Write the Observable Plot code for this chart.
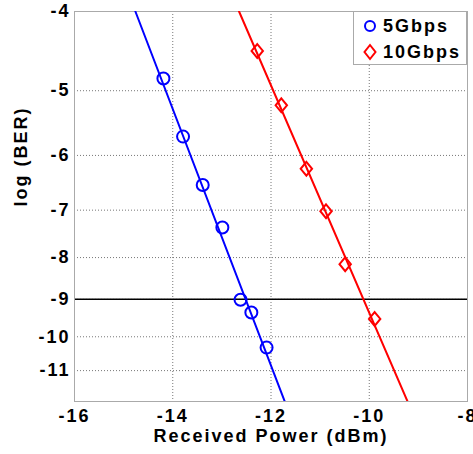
<!DOCTYPE html>
<html>
<head>
<meta charset="utf-8">
<script src="https://cdn.jsdelivr.net/npm/d3@7"></script>
<script src="https://cdn.jsdelivr.net/npm/@observablehq/plot@0.6"></script>
<style>
  html, body { margin: 0; padding: 0; background: #fff; }
  #wrap { position: relative; width: 473px; height: 454px; font-family: "Liberation Sans", Arial, sans-serif; }
  #legend { position: absolute; left: 353px; top: 11px; width: 114px; height: 54px; background: #fff; border: 1px solid #aaa; box-sizing: border-box; }
  #legend .row { position: absolute; left: 0; height: 26px; display: flex; align-items: center; font-weight: bold; font-size: 18px; letter-spacing: 2px; color: #000; }
  #legend svg { margin-left: 9px; margin-right: 6px; }
</style>
</head>
<body>
<div id="wrap"></div>
<script>
// ---- data ----
const xTicks = [-16, -14, -12, -10, -8];
const yTicks = [-4, -5, -6, -7, -8, -9, -10, -11];
const series = ["5Gbps", "10Gbps"];
const power5 = [-14.19, -13.79, -13.39, -12.99, -12.62, -12.40, -12.09];
const logBer5 = [-4.83, -5.69, -6.52, -7.35, -9.01, -9.34, -10.31];
const power10 = [-12.28, -11.79, -11.28, -10.88, -10.49, -9.89];
const logBer10 = [-4.47, -5.21, -6.23, -7.02, -8.15, -9.51];
const fitPower5 = [-14.76, -11.72];
const fitLogBer5 = [-4, -12];
const fitPower10 = [-12.65, -9.22];
const fitLogBer10 = [-4, -12];
const threshold = [-9];

const pts5 = power5.map((p, i) => ({p, b: logBer5[i]}));
const pts10 = power10.map((p, i) => ({p, b: logBer10[i]}));
const fit5 = fitPower5.map((p, i) => ({p, b: fitLogBer5[i]}));
const fit10 = fitPower10.map((p, i) => ({p, b: fitLogBer10[i]}));

const diamond = {
  draw(ctx, size) {
    const r = Math.sqrt(size / Math.PI);
    const w = r * 0.95, h = r * 1.15;
    ctx.moveTo(0, -h); ctx.lineTo(w, 0); ctx.lineTo(0, h); ctx.lineTo(-w, 0); ctx.closePath();
  }
};

const font = "'Liberation Sans', Arial, sans-serif";
const chart = Plot.plot({
  width: 473,
  height: 454,
  marginLeft: 74,
  marginRight: 6,
  marginTop: 11,
  marginBottom: 53,
  style: {fontFamily: font, fontSize: "18px", fontWeight: "bold", letterSpacing: "2px", background: "#fff", color: "#000"},
  x: {domain: [-16, -8]},
  y: {type: "log", domain: [4, 12], reverse: true},
  marks: [
    Plot.gridX(xTicks, {stroke: "#777", strokeOpacity: 1, strokeDasharray: "1,2"}),
    Plot.gridY(yTicks.map(v => -v), {stroke: "#777", strokeOpacity: 1, strokeDasharray: "1,2"}),
    Plot.ruleY(threshold.map(v => -v), {stroke: "#000", strokeWidth: 1.5}),
    Plot.frame({stroke: "#aaa"}),
    Plot.axisX(xTicks, {tickSize: 0, tickPadding: 8, label: null, fontSize: 18, fontWeight: "bold", tickFormat: d => String(d).replace("\u2212", "-")}),
    Plot.axisY(yTicks.map(v => -v), {tickSize: 0, tickPadding: 4, label: null, fontSize: 18, fontWeight: "bold", tickFormat: d => "-" + d}),
    Plot.line(fit5, {x: "p", y: d => -d.b, stroke: "#0000ff", strokeWidth: 2, clip: true}),
    Plot.line(fit10, {x: "p", y: d => -d.b, stroke: "#ff0000", strokeWidth: 2, clip: true}),
    Plot.dot(pts5, {x: "p", y: d => -d.b, symbol: "circle", r: 6, stroke: "#0000ff", strokeWidth: 2, fill: "none"}),
    Plot.dot(pts10, {x: "p", y: d => -d.b, symbol: diamond, r: 6, stroke: "#ff0000", strokeWidth: 2, fill: "none"}),
    Plot.text(["Received Power (dBm)"], {frameAnchor: "bottom", dy: 40, text: d => d, fontSize: 18, fontWeight: "bold"}),
    Plot.text(["log (BER)"], {frameAnchor: "left", dx: -53, rotate: -90, text: d => d, fontSize: 18, fontWeight: "bold"})
  ]
});

const wrap = document.getElementById("wrap");
wrap.appendChild(chart);

const legend = document.createElement("div");
legend.id = "legend";
legend.innerHTML = `
  <div class="row" style="top:1px"><svg width="14" height="16"><circle cx="7" cy="8" r="5" fill="none" stroke="#0000ff" stroke-width="2"/></svg>${series[0]}</div>
  <div class="row" style="top:27px"><svg width="14" height="18"><polygon points="7,2 12.5,9 7,16 1.5,9" fill="none" stroke="#ff0000" stroke-width="2"/></svg>${series[1]}</div>`;
wrap.appendChild(legend);
</script>
</body>
</html>
